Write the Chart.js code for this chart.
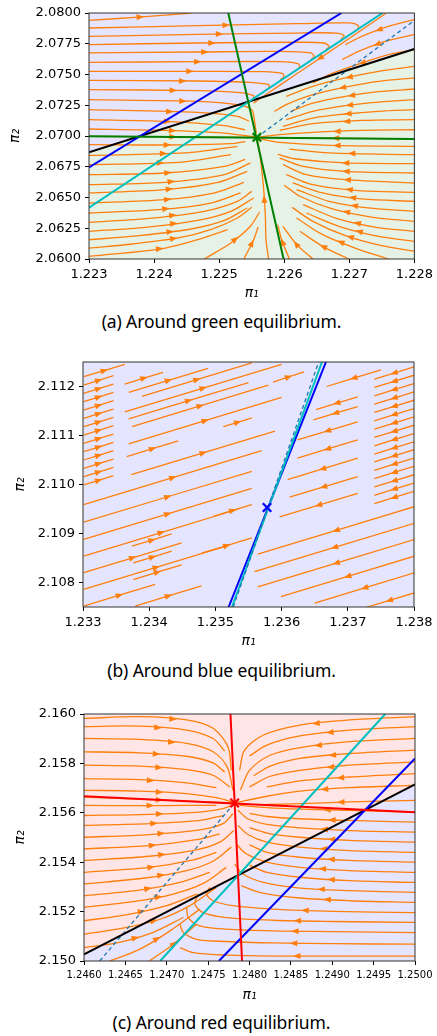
<!DOCTYPE html>
<html lang="en">
<head>
<meta charset="UTF-8" />
<title>Streamlines around the three equilibria</title>
<script src="https://cdn.jsdelivr.net/npm/chart.js@4"></script>
<style>
  body { margin: 0; background: #fff; width: 437px; height: 1036px; position: relative; overflow: hidden; }
  .panel { position: absolute; left: 0; width: 437px; }
  .caption { position: absolute; left: 0; width: 443px; text-align: center; line-height: 24px;
             font-family: "Noto Sans", sans-serif; font-size: 17.5px; color: #000; letter-spacing: -0.1px; }
</style>
</head>
<body>
<div class="panel" style="top:0"><canvas id="chartA" width="437" height="306"></canvas></div>
<div class="caption" style="top:309px">(a) Around green equilibrium.</div>
<div class="panel" style="top:340px"><canvas id="chartB" width="437" height="314"></canvas></div>
<div class="caption" style="top:658px">(b) Around blue equilibrium.</div>
<div class="panel" style="top:690px"><canvas id="chartC" width="437" height="318"></canvas></div>
<div class="caption" style="top:1010px">(c) Around red equilibrium.</div>

<script>
// ---- tick labels ----
const ticksAX = ['1.223', '1.224', '1.225', '1.226', '1.227', '1.228'];
const ticksAY = ['2.0600', '2.0625', '2.0650', '2.0675', '2.0700', '2.0725', '2.0750', '2.0775', '2.0800'];
const ticksBX = ['1.233', '1.234', '1.235', '1.236', '1.237', '1.238'];
const ticksBY = ['2.108', '2.109', '2.110', '2.111', '2.112'];
const ticksCX = ['1.2460', '1.2465', '1.2470', '1.2475', '1.2480', '1.2485', '1.2490', '1.2495', '1.2500'];
const ticksCY = ['2.150', '2.152', '2.154', '2.156', '2.158', '2.160'];

// ---- (a) green equilibrium ----
const eqA = [1.22558, 2.06989];
const blackA = [[1.223, 2.06867], [1.228, 2.07707]];
const blueA = [[1.223, 2.06745], [1.22688, 2.08]];
const cyanA = [[1.223, 2.06417], [1.22751, 2.08]];
const greenHA = [[1.223, 2.06997], [1.228, 2.06976]];
const greenVA = [[1.22514, 2.08], [1.22599, 2.06]];
const dashA = [[1.22558, 2.06989], [1.228, 2.0794]];
const streamsA = [
  [[1.22300,2.07940],[1.22377,2.07967],[1.22457,2.08000]],
  [[1.22300,2.07878],[1.22467,2.07897],[1.22619,2.07913],[1.22699,2.07919],[1.22714,2.07897],[1.22712,2.07865]],
  [[1.22300,2.07810],[1.22467,2.07827],[1.22619,2.07837],[1.22679,2.07837],[1.22692,2.07816],[1.22687,2.07783]],
  [[1.22300,2.07743],[1.22467,2.07756],[1.22619,2.07762],[1.22661,2.07756],[1.22669,2.07729],[1.22664,2.07702]],
  [[1.22300,2.07675],[1.22467,2.07683],[1.22593,2.07688],[1.22641,2.07675],[1.22646,2.07648],[1.22641,2.07621]],
  [[1.22300,2.07599],[1.22467,2.07604],[1.22593,2.07604],[1.22621,2.07588],[1.22624,2.07561],[1.22619,2.07539]],
  [[1.22300,2.07526],[1.22467,2.07526],[1.22568,2.07523],[1.22598,2.07507],[1.22599,2.07480],[1.22594,2.07458]],
  [[1.22300,2.07453],[1.22467,2.07447],[1.22548,2.07436],[1.22576,2.07417],[1.22576,2.07390],[1.22571,2.07371]],
  [[1.22300,2.07377],[1.22467,2.07369],[1.22528,2.07355],[1.22553,2.07328],[1.22552,2.07301]],
  [[1.22300,2.07295],[1.22467,2.07282],[1.22528,2.07255],[1.22550,2.07214],[1.22554,2.07133],[1.22557,2.07024]],
  [[1.22300,2.07214],[1.22467,2.07192],[1.22528,2.07160],[1.22546,2.07120]],
  [[1.22300,2.07133],[1.22417,2.07119],[1.22508,2.07084],[1.22540,2.07050]],
  [[1.22300,2.07057],[1.22417,2.07046],[1.22508,2.07024],[1.22556,2.06992]],
  [[1.22300,2.06997],[1.22558,2.06989]],
  [[1.22300,2.06930],[1.22417,2.06927],[1.22518,2.06938],[1.22540,2.06955]],
  [[1.22300,2.06843],[1.22447,2.06862],[1.22528,2.06916]],
  [[1.22300,2.06767],[1.22437,2.06786],[1.22518,2.06848]],
  [[1.22300,2.06686],[1.22417,2.06699],[1.22508,2.06753],[1.22540,2.06810]],
  [[1.22300,2.06604],[1.22417,2.06623],[1.22508,2.06686],[1.22548,2.06781]],
  [[1.22300,2.06537],[1.22417,2.06564],[1.22498,2.06623],[1.22543,2.06713]],
  [[1.22300,2.06455],[1.22417,2.06482],[1.22493,2.06537],[1.22538,2.06623]],
  [[1.22300,2.06374],[1.22407,2.06401],[1.22487,2.06455],[1.22533,2.06537]],
  [[1.22300,2.06298],[1.22397,2.06333],[1.22477,2.06388],[1.22528,2.06469],[1.22550,2.06550]],
  [[1.22300,2.06225],[1.22387,2.06257],[1.22467,2.06314],[1.22518,2.06388],[1.22553,2.06496]],
  [[1.22300,2.06157],[1.22377,2.06190],[1.22457,2.06244],[1.22508,2.06314],[1.22543,2.06415]],
  [[1.22300,2.06089],[1.22367,2.06122],[1.22437,2.06171],[1.22487,2.06239],[1.22528,2.06333],[1.22550,2.06420]],
  [[1.22300,2.06022],[1.22356,2.06049],[1.22417,2.06089],[1.22467,2.06157],[1.22513,2.06239]],
  [[1.22477,2.06000],[1.22518,2.06130],[1.22548,2.06266],[1.22562,2.06380]],
  [[1.22538,2.06000],[1.22553,2.06157],[1.22560,2.06260]],
  [[1.22576,2.06000],[1.22572,2.06157],[1.22571,2.06347],[1.22568,2.06591],[1.22563,2.06835],[1.22559,2.06970]],
  [[1.22800,2.06976],[1.22558,2.06989]],
  [[1.22800,2.06916],[1.22669,2.06924],[1.22593,2.06948],[1.22563,2.06976]],
  [[1.22800,2.06848],[1.22669,2.06862],[1.22608,2.06894]],
  [[1.22800,2.06775],[1.22694,2.06781],[1.22619,2.06813],[1.22590,2.06850]],
  [[1.22800,2.06699],[1.22694,2.06713],[1.22629,2.06753],[1.22593,2.06821]],
  [[1.22800,2.06618],[1.22694,2.06645],[1.22634,2.06686],[1.22598,2.06767]],
  [[1.22800,2.06542],[1.22709,2.06558],[1.22644,2.06604],[1.22603,2.06686]],
  [[1.22800,2.06469],[1.22719,2.06488],[1.22659,2.06537],[1.22613,2.06618]],
  [[1.22800,2.06388],[1.22729,2.06415],[1.22669,2.06469],[1.22619,2.06564]],
  [[1.22800,2.06306],[1.22734,2.06341],[1.22674,2.06407],[1.22624,2.06510],[1.22600,2.06600]],
  [[1.22800,2.06225],[1.22739,2.06260],[1.22679,2.06333],[1.22629,2.06442]],
  [[1.22800,2.06144],[1.22745,2.06184],[1.22684,2.06266],[1.22634,2.06374]],
  [[1.22800,2.06062],[1.22750,2.06108],[1.22694,2.06190],[1.22644,2.06306],[1.22612,2.06420]],
  [[1.22760,2.06000],[1.22709,2.06089],[1.22659,2.06198],[1.22619,2.06333]],
  [[1.22699,2.06000],[1.22659,2.06103],[1.22624,2.06225]],
  [[1.22644,2.06000],[1.22619,2.06117],[1.22598,2.06266]],
  [[1.22608,2.06000],[1.22596,2.06157],[1.22590,2.06280]],
  [[1.22800,2.07566],[1.22745,2.07526],[1.22694,2.07472],[1.22644,2.07404],[1.22603,2.07323]],
  [[1.22800,2.07472],[1.22745,2.07444],[1.22694,2.07398],[1.22644,2.07336],[1.22603,2.07255],[1.22585,2.07200]],
  [[1.22800,2.07382],[1.22745,2.07360],[1.22694,2.07323],[1.22644,2.07268],[1.22610,2.07200]],
  [[1.22800,2.07295],[1.22745,2.07276],[1.22694,2.07247],[1.22644,2.07201],[1.22603,2.07133]],
  [[1.22800,2.07214],[1.22745,2.07201],[1.22694,2.07179],[1.22644,2.07146],[1.22598,2.07079]],
  [[1.22800,2.07133],[1.22719,2.07127],[1.22644,2.07100],[1.22593,2.07046]],
  [[1.22800,2.07051],[1.22719,2.07046],[1.22644,2.07030],[1.22593,2.07011],[1.22563,2.06992]],
  [[1.22757,2.08000],[1.22682,2.07729],[1.22621,2.07512],[1.22568,2.07323],[1.22553,2.07268]],
  [[1.22800,2.07946],[1.22760,2.07892],[1.22719,2.07810],[1.22694,2.07743]],
  [[1.22800,2.07824],[1.22755,2.07770],[1.22714,2.07688],[1.22689,2.07621]],
  [[1.22800,2.07702],[1.22760,2.07661],[1.22719,2.07593],[1.22669,2.07499],[1.22644,2.07431]]
];

// ---- (b) blue equilibrium ----
const eqB = [1.23578, 2.10953];
const blueB = [[1.23520, 2.1075], [1.23667, 2.1125]];
const cyanB = [[1.23525, 2.1075], [1.23661, 2.1125]];
const dashB = [[1.23527, 2.1075], [1.23656, 2.1125]];
const streamsB = [
  [[1.23301,2.11220],[1.23363,2.11245]],
  [[1.23301,2.11203],[1.23346,2.11222]], [[1.23301,2.11186],[1.23346,2.11205]],
  [[1.23301,2.11169],[1.23346,2.11188]], [[1.23301,2.11152],[1.23346,2.11171]],
  [[1.23301,2.11135],[1.23346,2.11154]], [[1.23301,2.11118],[1.23346,2.11137]],
  [[1.23301,2.11101],[1.23346,2.11120]], [[1.23301,2.11084],[1.23346,2.11103]],
  [[1.23301,2.11067],[1.23346,2.11086]], [[1.23301,2.11050],[1.23346,2.11069]],
  [[1.23301,2.11033],[1.23346,2.11052]], [[1.23301,2.11016],[1.23346,2.11035]],
  [[1.23301,2.10999],[1.23346,2.11018]],
  [[1.23363,2.11205],[1.23421,2.11229]], [[1.23369,2.11188],[1.23489,2.11237]],
  [[1.23389,2.11180],[1.23555,2.11248]], [[1.23363,2.11148],[1.23600,2.11245]],
  [[1.23369,2.11134],[1.23550,2.11208]], [[1.23374,2.11118],[1.23580,2.11203]],
  [[1.23512,2.11118],[1.23555,2.11136]], [[1.23369,2.11083],[1.23600,2.11178]],
  [[1.23366,2.11057],[1.23444,2.11089]], [[1.23373,2.11020],[1.23590,2.11109]],
  [[1.23301,2.10959],[1.23570,2.11069]], [[1.23301,2.10923],[1.23555,2.11027]],
  [[1.23301,2.10888],[1.23555,2.10992]], [[1.23374,2.10874],[1.23434,2.10899]],
  [[1.23301,2.10854],[1.23535,2.10950]], [[1.23376,2.10840],[1.23434,2.10864]],
  [[1.23301,2.10820],[1.23449,2.10881]], [[1.23376,2.10806],[1.23449,2.10836]],
  [[1.23301,2.10786],[1.23520,2.10876]], [[1.23301,2.10752],[1.23409,2.10796]],
  [[1.23379,2.10752],[1.23479,2.10793]], [[1.23479,2.10860],[1.23555,2.10891]],
  [[1.23497,2.10935],[1.23555,2.10959]], [[1.23587,2.11209],[1.23634,2.11230]],
  [[1.23800,2.11240],[1.23740,2.11215]], [[1.23800,2.11223],[1.23740,2.11198]],
  [[1.23800,2.11206],[1.23740,2.11181]], [[1.23800,2.11189],[1.23740,2.11164]],
  [[1.23800,2.11172],[1.23740,2.11147]], [[1.23800,2.11155],[1.23740,2.11130]],
  [[1.23800,2.11138],[1.23740,2.11113]], [[1.23800,2.11121],[1.23740,2.11096]],
  [[1.23800,2.11104],[1.23740,2.11079]], [[1.23800,2.11087],[1.23740,2.11062]],
  [[1.23800,2.11071],[1.23740,2.11046]], [[1.23800,2.11054],[1.23740,2.11029]],
  [[1.23800,2.11037],[1.23740,2.11012]], [[1.23800,2.11020],[1.23740,2.10995]],
  [[1.23800,2.11003],[1.23740,2.10978]], [[1.23800,2.10986],[1.23740,2.10961]],
  [[1.23750,2.11234],[1.23668,2.11200]], [[1.23715,2.11179],[1.23652,2.11153]],
  [[1.23715,2.11159],[1.23648,2.11132]], [[1.23715,2.11128],[1.23624,2.11091]],
  [[1.23715,2.11091],[1.23624,2.11054]], [[1.23715,2.11054],[1.23609,2.11010]],
  [[1.23715,2.11016],[1.23612,2.10974]], [[1.23715,2.10982],[1.23597,2.10934]],
  [[1.23801,2.10955],[1.23564,2.10858]], [[1.23801,2.10921],[1.23559,2.10822]],
  [[1.23801,2.10888],[1.23564,2.10791]], [[1.23801,2.10854],[1.23599,2.10771]],
  [[1.23801,2.10820],[1.23650,2.10758]], [[1.23801,2.10779],[1.23725,2.10748]]
];

// ---- (c) red equilibrium ----
const eqC = [1.24782, 2.15640];
const blackC = [[1.246, 2.15027], [1.25, 2.15715]];
const blueC = [[1.24763, 2.15], [1.25, 2.1582]];
const cyanC = [[1.24692, 2.15], [1.24964, 2.16]];
const redHC = [[1.246, 2.15667], [1.25, 2.15602]];
const redVC = [[1.24777, 2.16], [1.24791, 2.15]];
const dashC = [[1.24619, 2.15], [1.24782, 2.1564]];
const streamsC = [
  [[1.24600,2.15982],[1.24667,2.15989],[1.24724,2.15976],[1.24756,2.15942],[1.24774,2.15867],[1.24778,2.15772]],
  [[1.24600,2.15949],[1.24667,2.15951],[1.24724,2.15935],[1.24756,2.15901],[1.24770,2.15850]],
  [[1.24600,2.15901],[1.24667,2.15897],[1.24724,2.15881],[1.24756,2.15847],[1.24773,2.15786],[1.24780,2.15691]],
  [[1.24600,2.15847],[1.24667,2.15843],[1.24724,2.15829],[1.24756,2.15802],[1.24770,2.15765]],
  [[1.24600,2.15793],[1.24667,2.15789],[1.24724,2.15775],[1.24756,2.15752],[1.24776,2.15705]],
  [[1.24600,2.15738],[1.24667,2.15734],[1.24724,2.15721],[1.24760,2.15702]],
  [[1.24600,2.15691],[1.24667,2.15688],[1.24724,2.15678],[1.24760,2.15661],[1.24781,2.15642]],
  [[1.24600,2.15664],[1.24782,2.15640]],
  [[1.24600,2.15630],[1.24667,2.15629],[1.24724,2.15630],[1.24760,2.15630]],
  [[1.24600,2.15589],[1.24679,2.15594],[1.24740,2.15603],[1.24768,2.15617],[1.24781,2.15634]],
  [[1.24600,2.15549],[1.24679,2.15556],[1.24740,2.15569],[1.24768,2.15589]],
  [[1.24600,2.15501],[1.24679,2.15512],[1.24740,2.15531],[1.24768,2.15556],[1.24780,2.15596]],
  [[1.24600,2.15454],[1.24679,2.15467],[1.24736,2.15491],[1.24764,2.15515]],
  [[1.24600,2.15407],[1.24679,2.15424],[1.24736,2.15450],[1.24764,2.15481],[1.24781,2.15528]],
  [[1.24600,2.15359],[1.24679,2.15379],[1.24732,2.15409],[1.24760,2.15440]],
  [[1.24600,2.15312],[1.24671,2.15335],[1.24724,2.15366],[1.24756,2.15404],[1.24778,2.15461]],
  [[1.24600,2.15264],[1.24667,2.15287],[1.24716,2.15318],[1.24752,2.15359]],
  [[1.24600,2.15217],[1.24659,2.15240],[1.24708,2.15271],[1.24744,2.15314],[1.24772,2.15379]],
  [[1.24600,2.15163],[1.24651,2.15187],[1.24700,2.15224],[1.24736,2.15271]],
  [[1.24600,2.15108],[1.24647,2.15133],[1.24692,2.15169],[1.24728,2.15224],[1.24760,2.15298]],
  [[1.24600,2.15054],[1.24643,2.15075],[1.24683,2.15115],[1.24720,2.15176]],
  [[1.24631,2.15000],[1.24667,2.15047],[1.24704,2.15122],[1.24740,2.15210]],
  [[1.24679,2.15000],[1.24708,2.15068],[1.24736,2.15149]],
  [[1.25000,2.15989],[1.24921,2.15976],[1.24861,2.15955],[1.24817,2.15915],[1.24794,2.15854],[1.24788,2.15772]],
  [[1.25000,2.15949],[1.24921,2.15935],[1.24861,2.15911],[1.24821,2.15874],[1.24800,2.15830]],
  [[1.25000,2.15901],[1.24921,2.15888],[1.24861,2.15864],[1.24825,2.15833],[1.24800,2.15772],[1.24789,2.15691]],
  [[1.25000,2.15854],[1.24921,2.15840],[1.24861,2.15820],[1.24825,2.15789],[1.24805,2.15750]],
  [[1.25000,2.15806],[1.24921,2.15793],[1.24861,2.15772],[1.24825,2.15748],[1.24800,2.15705]],
  [[1.25000,2.15759],[1.24921,2.15745],[1.24861,2.15729],[1.24821,2.15705]],
  [[1.25000,2.15711],[1.24921,2.15702],[1.24861,2.15688],[1.24821,2.15667],[1.24783,2.15641]],
  [[1.25000,2.15650],[1.24921,2.15644],[1.24861,2.15637],[1.24821,2.15634]],
  [[1.25000,2.15602],[1.24921,2.15610],[1.24861,2.15615],[1.24821,2.15621],[1.24788,2.15630]],
  [[1.25000,2.15562],[1.24921,2.15569],[1.24861,2.15576],[1.24821,2.15585],[1.24800,2.15598]],
  [[1.25000,2.15522],[1.24921,2.15528],[1.24861,2.15539],[1.24821,2.15553],[1.24798,2.15576],[1.24786,2.15610]],
  [[1.25000,2.15481],[1.24921,2.15488],[1.24861,2.15501],[1.24821,2.15518],[1.24800,2.15540]],
  [[1.25000,2.15440],[1.24921,2.15447],[1.24861,2.15461],[1.24821,2.15481],[1.24798,2.15512],[1.24786,2.15549]],
  [[1.25000,2.15400],[1.24921,2.15407],[1.24861,2.15420],[1.24821,2.15440],[1.24800,2.15470]],
  [[1.25000,2.15359],[1.24921,2.15366],[1.24861,2.15379],[1.24821,2.15400],[1.24796,2.15434],[1.24784,2.15474]],
  [[1.25000,2.15318],[1.24921,2.15325],[1.24861,2.15339],[1.24821,2.15359],[1.24800,2.15388]],
  [[1.25000,2.15278],[1.24921,2.15285],[1.24861,2.15295],[1.24817,2.15318],[1.24792,2.15352],[1.24782,2.15393]],
  [[1.25000,2.15237],[1.24921,2.15244],[1.24861,2.15255],[1.24812,2.15278],[1.24790,2.15305]],
  [[1.25000,2.15196],[1.24901,2.15201],[1.24829,2.15210],[1.24780,2.15224],[1.24756,2.15244],[1.24748,2.15271],[1.24752,2.15298]],
  [[1.25000,2.15156],[1.24901,2.15160],[1.24829,2.15165],[1.24772,2.15176],[1.24744,2.15196],[1.24734,2.15230],[1.24738,2.15271]],
  [[1.25000,2.15115],[1.24901,2.15119],[1.24829,2.15122],[1.24772,2.15129],[1.24740,2.15142],[1.24726,2.15176],[1.24724,2.15217]],
  [[1.25000,2.15068],[1.24901,2.15070],[1.24829,2.15073],[1.24772,2.15079],[1.24736,2.15088],[1.24720,2.15115],[1.24716,2.15149]],
  [[1.25000,2.15020],[1.24901,2.15020],[1.24829,2.15020],[1.24772,2.15024],[1.24732,2.15034],[1.24716,2.15054]]
];

// ---- styling ----
const ORANGE = '#ff7f0e';
const LAVENDER = '#e5e5ff';
const MINT = '#e5f2e5';
const PINK = '#ffe5e5';

const pts = arr => arr.map(p => ({ x: p[0], y: p[1] }));

function line(arr, color, width, dash) {
  return { data: pts(arr), showLine: true, borderColor: color, borderWidth: width,
           borderDash: dash || [], pointRadius: 0, fill: false, order: 2 };
}
function region(arr, target, color) {
  return { data: pts(arr), showLine: true, borderWidth: 0, borderColor: 'rgba(0,0,0,0)',
           backgroundColor: color, pointRadius: 0, fill: target, order: 10 };
}
function streams(list) {
  return list.map(s => ({ data: pts(s), showLine: true, borderColor: ORANGE, borderWidth: 1.3,
                          pointRadius: 0, fill: false, tension: 0.3, order: 5, stream: true }));
}
function marker(p, color) {
  return { data: pts([p]), pointStyle: 'crossRot', pointRadius: 6, pointBorderWidth: 2.2,
           borderColor: color, backgroundColor: color, order: 0 };
}

// arrow head at the middle of every streamline, like matplotlib does
const arrowPlugin = {
  id: 'streamArrows',
  afterDatasetDraw(chart, args) {
    const ds = chart.data.datasets[args.index];
    if (!ds.stream) return;
    const p = args.meta.data.map(e => [e.x, e.y]);
    const seg = [];
    let total = 0;
    for (let i = 1; i < p.length; i++) {
      const l = Math.hypot(p[i][0] - p[i - 1][0], p[i][1] - p[i - 1][1]);
      seg.push(l); total += l;
    }
    let half = total / 2, i = 0;
    while (i < seg.length - 1 && half > seg[i]) { half -= seg[i]; i++; }
    const t = seg[i] ? half / seg[i] : 0;
    const x = p[i][0] + (p[i + 1][0] - p[i][0]) * t;
    const y = p[i][1] + (p[i + 1][1] - p[i][1]) * t;
    const ang = Math.atan2(p[i + 1][1] - p[i][1], p[i + 1][0] - p[i][0]);
    const ctx = chart.ctx, a = chart.chartArea;
    ctx.save();
    ctx.beginPath(); ctx.rect(a.left, a.top, a.right - a.left, a.bottom - a.top); ctx.clip();
    ctx.translate(x, y); ctx.rotate(ang);
    ctx.beginPath(); ctx.moveTo(4, 0); ctx.lineTo(-3.5, -3); ctx.lineTo(-3.5, 3); ctx.closePath();
    ctx.fillStyle = ORANGE; ctx.fill();
    ctx.restore();
  }
};

const framePlugin = {
  id: 'frame',
  beforeDatasetsDraw(chart, args, opts) {
    if (!opts.bg) return;
    const a = chart.chartArea, ctx = chart.ctx;
    ctx.save(); ctx.fillStyle = opts.bg;
    ctx.fillRect(a.left, a.top, a.right - a.left, a.bottom - a.top);
    ctx.restore();
  },
  afterDraw(chart) {
    const a = chart.chartArea, ctx = chart.ctx;
    ctx.save(); ctx.strokeStyle = '#333'; ctx.lineWidth = 1;
    ctx.strokeRect(a.left, a.top, a.right - a.left, a.bottom - a.top);
    ctx.restore();
  }
};

function axes(xT, yT, xr, yr, yWidth, xFont, yTitlePad) {
  const tickFont = size => ({ family: 'DejaVu Sans', size: size });
  const title = (text, pad) => ({ display: true, text: text, color: '#000', padding: pad,
                                  font: { family: 'DejaVu Sans', style: 'italic', size: 14 } });
  return {
    x: {
      type: 'linear', min: xr[0], max: xr[1],
      afterBuildTicks: s => { s.ticks = xT.map(v => ({ value: +v })); },
      afterFit: s => { s.height = 47; },
      ticks: { callback: (v, i) => xT[i], font: tickFont(xFont), color: '#000', padding: 4,
               maxRotation: 0, autoSkip: false },
      grid: { drawOnChartArea: false, tickLength: 4, tickColor: '#000', tickWidth: 1 },
      border: { display: false },
      title: title('π₁', { top: 0, bottom: 4 })
    },
    y: {
      type: 'linear', min: yr[0], max: yr[1],
      afterBuildTicks: s => { s.ticks = yT.map(v => ({ value: +v })); },
      afterFit: s => { s.width = yWidth; },
      ticks: { callback: (v, i) => yT[i], font: tickFont(13), color: '#000', padding: 4, autoSkip: false },
      grid: { drawOnChartArea: false, tickLength: 4, tickColor: '#000', tickWidth: 1 },
      border: { display: false },
      title: title('π₂', { top: yTitlePad, bottom: 0 })
    }
  };
}

function makeChart(id, datasets, scales, padding, bg) {
  return new Chart(document.getElementById(id), {
    type: 'scatter',
    data: { datasets: datasets },
    options: {
      responsive: false, animation: false, events: [],
      layout: { padding: padding, autoPadding: false },
      scales: scales,
      plugins: { legend: { display: false }, tooltip: { enabled: false }, frame: { bg: bg } }
    },
    plugins: [framePlugin, arrowPlugin]
  });
}

makeChart('chartA', [
  marker(eqA, '#008000'),
  line(greenHA, '#008000', 2), line(greenVA, '#008000', 2),
  line(blueA, '#0000ff', 2), line(cyanA, '#00bfbf', 2), line(blackA, '#000', 2),
  line(dashA, '#1f77b4', 1.3, [4, 3]),
  ...streams(streamsA),
  region(blackA, 'end', LAVENDER), region(blackA, 'start', MINT)
], axes(ticksAX, ticksAY, [1.223, 1.228], [2.06, 2.08], 89, 13, 7),
   { left: 0, top: 13, right: 17, bottom: 0 }, null);

makeChart('chartB', [
  marker(eqB, '#0000ff'),
  line(dashB, '#1f77b4', 1.3, [4, 3]), line(cyanB, '#00bfbf', 2), line(blueB, '#0000ff', 2),
  ...streams(streamsB)
], axes(ticksBX, ticksBY, [1.233, 1.238], [2.1075, 2.1125], 83, 13, 12),
   { left: 0, top: 22, right: 23, bottom: 0 }, LAVENDER);

makeChart('chartC', [
  marker(eqC, '#ff0000'),
  line(redHC, '#ff0000', 2), line(redVC, '#ff0000', 2),
  line(blueC, '#0000ff', 2), line(cyanC, '#00bfbf', 2), line(blackC, '#000', 2),
  line(dashC, '#1f77b4', 1.3, [4, 3]),
  ...streams(streamsC),
  region(blackC, 'end', PINK), region(blackC, 'start', LAVENDER)
], axes(ticksCX, ticksCY, [1.246, 1.25], [2.15, 2.16], 84, 10, 12),
   { left: 0, top: 24, right: 22, bottom: 0 }, null);
</script>
</body>
</html>
